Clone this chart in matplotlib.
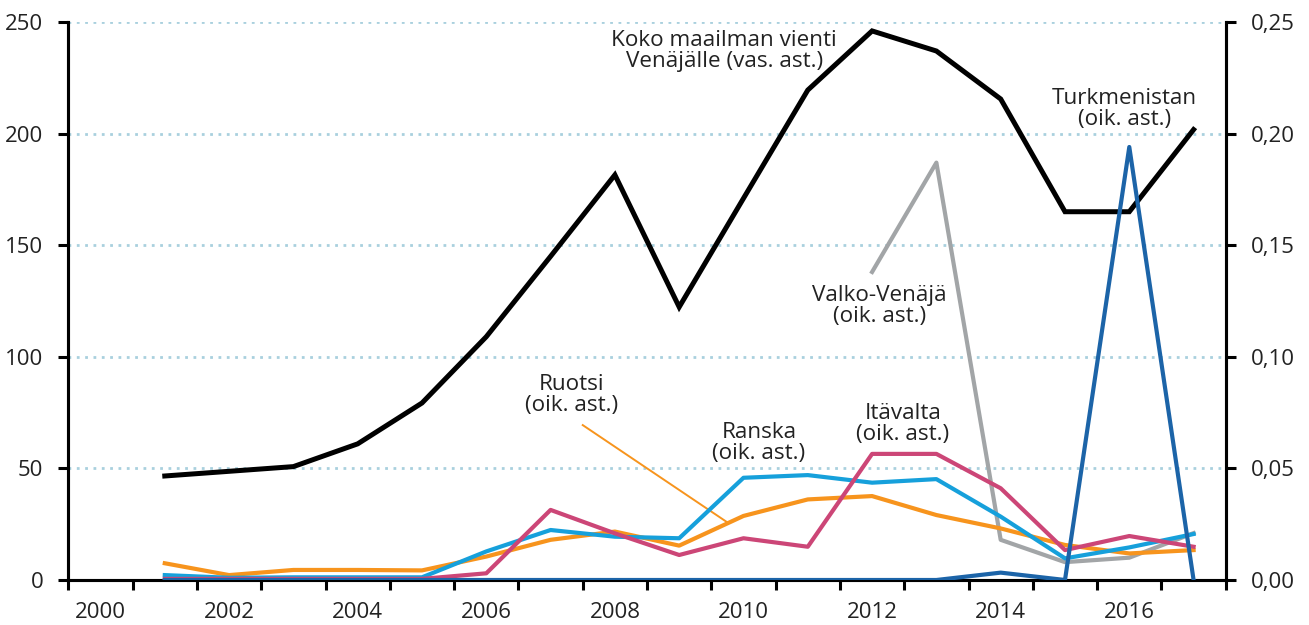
import matplotlib
matplotlib.use("Agg")
import matplotlib.pyplot as plt
from matplotlib.ticker import FixedLocator, FuncFormatter

plt.rcParams['font.family'] = ['Open Sans', 'DejaVu Sans']

years = list(range(2001, 2018))
year_labels = ['2000', '2002', '2004', '2006', '2008', '2010', '2012', '2014', '2016']

# Left axis (vas. ast.)
world = [46.6, 48.7, 50.8, 61.0, 79.3, 109.0, 145.0, 181.5, 122.3, 171.0,
         219.5, 246.0, 237.0, 215.5, 165.0, 165.0, 201.8]

# Right axis (oik. ast.)
belarus_years = [2012, 2013, 2014, 2015, 2016, 2017]
belarus = [0.138, 0.187, 0.018, 0.008, 0.010, 0.021]
turkmenistan = [0, 0, 0, 0, 0, 0, 0, 0, 0, 0, 0, 0, 0, 0.0033, 0, 0.194, 0]
france = [0.0022, 0.001, 0.0012, 0.0012, 0.0012, 0.0128, 0.0224, 0.0194, 0.0187, 0.0458,
          0.047, 0.0436, 0.0452, 0.0284, 0.0097, 0.0146, 0.0206]
austria = [0.0005, 0.0005, 0.0005, 0.0005, 0.0005, 0.003, 0.0314, 0.0209, 0.0112, 0.0187,
           0.0149, 0.0565, 0.0565, 0.0411, 0.0134, 0.0197, 0.0149]
sweden = [0.0075, 0.0022, 0.0045, 0.0045, 0.0043, 0.0105, 0.018, 0.0217, 0.0154, 0.0287,
          0.0361, 0.0376, 0.0291, 0.0231, 0.0157, 0.0119, 0.0134]

fig = plt.figure(figsize=(13.09, 6.25), dpi=100)
ax = fig.add_axes([0.0522, 0.072, 0.8842, 0.8928])
ax2 = ax.twinx()

ax.set_xlim(1999.5, 2017.5)
ax.set_ylim(0, 250)
ax2.set_ylim(0, 0.25)

# grid
for v in [50, 100, 150, 200, 250]:
    ax.axhline(v, color='#a9d0de', lw=2.0, ls=(0, (1, 2)), zorder=0)

ax.plot(years, world, color='black', lw=3.6, zorder=5, solid_joinstyle='miter')
ax2.plot(belarus_years, belarus, color='#a2a5a7', lw=3.0, zorder=1)
ax2.plot(years, sweden, color='#f7941d', lw=3.0, zorder=2)
ax2.plot(years, france, color='#16a0db', lw=3.0, zorder=3)
ax2.plot(years, austria, color='#cc4677', lw=3.0, zorder=4)
ax2.plot(years, turkmenistan, color='#1c64a8', lw=3.0, zorder=6)

# spines
for a in (ax, ax2):
    a.spines['top'].set_visible(False)
    for s in ('left', 'right', 'bottom'):
        a.spines[s].set_linewidth(2.2)
        a.spines[s].set_color('black')

ax.yaxis.set_major_locator(FixedLocator([0, 50, 100, 150, 200, 250]))
ax2.yaxis.set_major_locator(FixedLocator([0, 0.05, 0.10, 0.15, 0.20, 0.25]))
ax2.yaxis.set_major_formatter(FuncFormatter(lambda v, p: f"{v:.2f}".replace('.', ',')))
ax.tick_params(axis='y', direction='out', length=7, width=2.2, labelsize=16, pad=11, colors='black', labelcolor='#222222')
ax2.tick_params(axis='y', direction='out', length=7, width=2.2, labelsize=16, pad=11, colors='black', labelcolor='#222222')

# x axis: category-style ticks between years, labels centered
ax.xaxis.set_major_locator(FixedLocator([1999.5 + i for i in range(19)]))
ax.xaxis.set_major_formatter(FuncFormatter(lambda v, p: ''))
ax.xaxis.set_minor_locator(FixedLocator([int(l) for l in year_labels]))
ax.set_xticklabels(year_labels, minor=True)
ax.tick_params(axis='x', which='major', direction='out', length=7, width=2.2)
ax.tick_params(axis='x', which='minor', length=0, labelsize=16, pad=16, labelcolor='#222222')

# annotations
tkw = dict(ha='center', va='center', fontsize=16.2, color='#222222', linespacing=1.0, zorder=10)
ax.text(2009.7, 237, 'Koko maailman vienti\nVenäjälle (vas. ast.)', **tkw)
ax.text(2015.93, 211, 'Turkmenistan\n(oik. ast.)', **tkw)
ax.text(2012.12, 122.8, 'Valko-Venäjä\n(oik. ast.)', **tkw)
ax.text(2007.33, 82.9, 'Ruotsi\n(oik. ast.)', **tkw)
ax.text(2010.24, 61.4, 'Ranska\n(oik. ast.)', **tkw)
ax.text(2012.48, 69.9, 'Itävalta\n(oik. ast.)', **tkw)
ax.plot([2007.5, 2009.74], [69.4, 26.0], color='#f7941d', lw=1.4, zorder=1)

fig.savefig('out.png', dpi=100)
